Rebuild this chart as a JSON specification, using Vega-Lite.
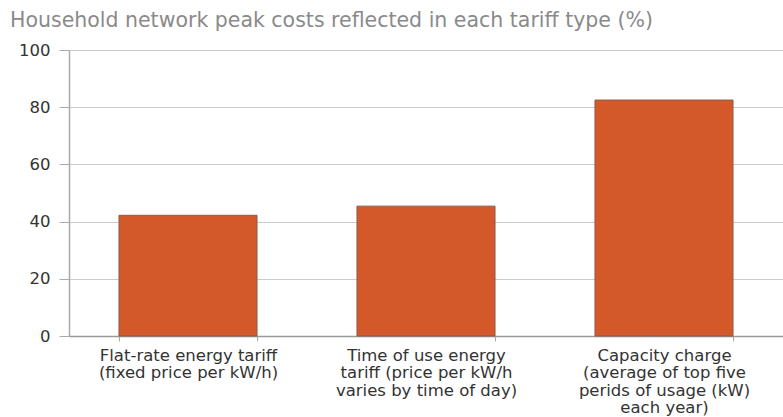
{
  "$schema": "https://vega.github.io/schema/vega-lite/v6.json",
  "width": 714,
  "height": 286,
  "autosize": {"type": "none"},
  "padding": {"left": 69, "top": 50, "right": 0, "bottom": 81},
  "background": "white",
  "title": {
    "text": "Household network peak costs reflected in each tariff type (%)",
    "anchor": "start",
    "frame": "group",
    "dx": -59,
    "offset": 11,
    "font": "DejaVu Sans",
    "fontSize": 20.5,
    "fontWeight": "normal",
    "color": "#8a8a8a"
  },
  "data": {
    "values": [
      {"tariff": "Flat-rate energy tariff|(fixed price per kW/h)", "pct": 42.2},
      {"tariff": "Time of use energy|tariff (price per kW/h|varies by time of day)", "pct": 45.4},
      {"tariff": "Capacity charge|(average of top five|perids of usage (kW)|each year)", "pct": 82.5}
    ]
  },
  "mark": {"type": "bar", "color": "#D4592A", "stroke": "#8c5a48", "strokeWidth": 1},
  "encoding": {
    "x": {
      "field": "tariff",
      "type": "nominal",
      "sort": null,
      "scale": {"paddingInner": 0.42, "paddingOuter": 0.21},
      "axis": {
        "title": null,
        "labelAngle": 0,
        "labelExpr": "split(datum.label, '|')",
        "labelFont": "DejaVu Sans",
        "labelFontSize": 16.5,
        "labelColor": "#333333",
        "labelLineHeight": 17.5,
        "labelPadding": 6,
        "labelLimit": 300,
        "tickBand": "extent",
        "tickSize": 5,
        "tickColor": "#aaaaaa",
        "domainColor": "#999999",
        "domainWidth": 1.5,
        "grid": false
      }
    },
    "y": {
      "field": "pct",
      "type": "quantitative",
      "scale": {"domain": [0, 100], "nice": false},
      "axis": {
        "title": null,
        "values": [0, 20, 40, 60, 80, 100],
        "labelFont": "DejaVu Sans",
        "labelFontSize": 16.5,
        "labelColor": "#333333",
        "labelPadding": 9,
        "tickSize": 10,
        "tickColor": "#aaaaaa",
        "domainColor": "#aaaaaa",
        "domainWidth": 1.5,
        "gridColor": "#cccccc",
        "gridWidth": 1
      }
    }
  },
  "config": {"view": {"stroke": null}}
}
